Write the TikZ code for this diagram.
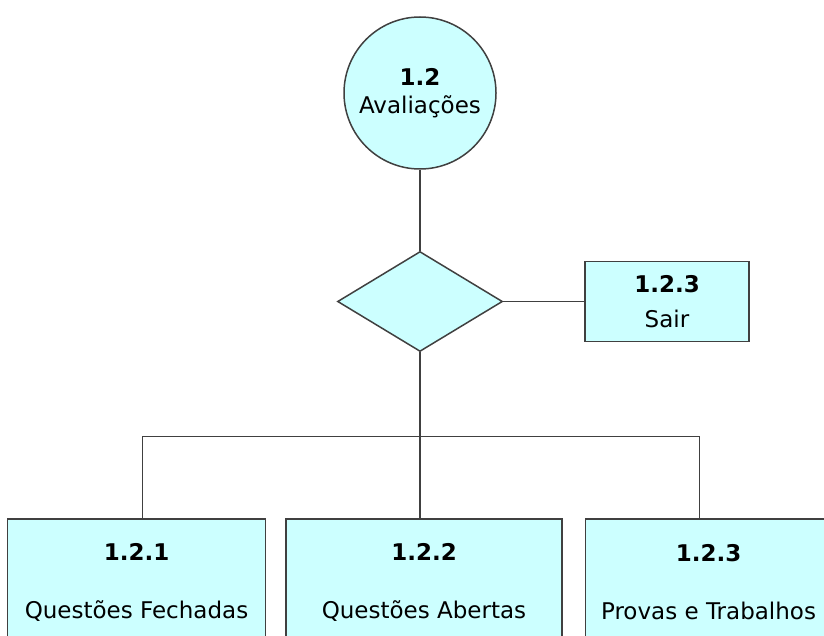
\documentclass[tikz,border=0pt]{standalone}
\usepackage{fontspec}
\setmainfont{DejaVu Sans}
\usepackage{tikz}
\usetikzlibrary{positioning,shapes.geometric}
\definecolor{cianoclaro}{RGB}{204,255,255}
\definecolor{contorno}{RGB}{64,64,64}
\tikzset{
    processo/.style={circle, draw=contorno, fill=cianoclaro, line width=1.5pt, minimum size=152pt, inner sep=0pt, align=center},
    decisao/.style={diamond, draw=contorno, fill=cianoclaro, line width=1.5pt, minimum width=165pt, minimum height=100pt, inner sep=0pt},
    bloco/.style={rectangle, draw=contorno, fill=cianoclaro, line width=1.5pt, align=center, inner sep=0pt},
    linha/.style={draw=contorno, line width=1.5pt},
}

\begin{document}
\begin{tikzpicture}
        [node distance=81pt, font=\fontsize{23}{28}\selectfont]

        \useasboundingbox (0,0) rectangle (824pt,-636pt);
        \clip (0,0) rectangle (824pt,-636pt);

        \node[processo] (aval) at (420pt,-93pt) {\textbf{1.2}\\Avaliações};
        \node[decisao, below=of aval] (menu) {};
        \node[bloco, minimum width=164pt, minimum height=80pt, right=of menu] (sair) {\textbf{1.2.3}\\[7pt]Sair};
        \node[bloco, minimum width=276pt, minimum height=126pt, below=166pt of menu, xshift=4pt] (abertas) {\textbf{1.2.2}\\[30pt]Questões Abertas};
        \node[bloco, minimum width=258pt, minimum height=126pt, left=19pt of abertas] (fechadas) {\textbf{1.2.1}\\[30pt]Questões Fechadas};
        \node[bloco, minimum width=246pt, minimum height=126pt, right=22pt of abertas] (trabalhos) {\textbf{1.2.3}\\[30pt]Provas e Trabalhos};
        \coordinate[below=84pt of menu.south] (juncao);

        \draw[linha] (aval) -- (menu);
        \draw[linha] (menu) -- (sair);
        \draw[linha] (menu) -- (juncao) -- (juncao |- abertas.north);
        \draw[linha] ([xshift=6pt]fechadas.north) |- (juncao) -| ([xshift=-9pt]trabalhos.north);

    \end{tikzpicture}
\end{document}
